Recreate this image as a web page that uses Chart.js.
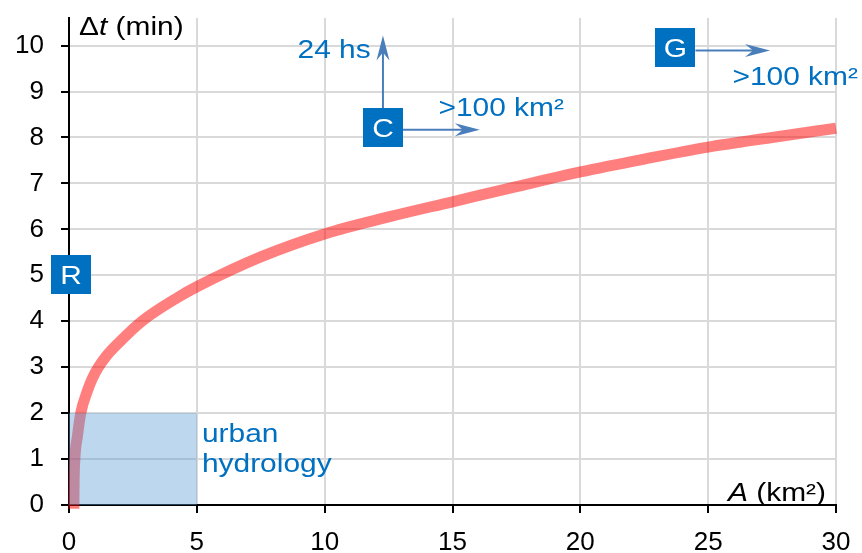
<!DOCTYPE html>
<html><head><meta charset="utf-8">
<script src="https://cdn.jsdelivr.net/npm/chart.js@4"></script>
<style>html,body{margin:0;padding:0;background:#fff}#wrap{width:862px;height:553px}</style>
</head><body><div id="wrap"><canvas id="c" width="862" height="553"></canvas></div>
<script>
// ---- data ----
const areaKm2 = [0.19, 0.2, 0.23, 0.33, 0.46, 0.73, 0.91, 1.15, 1.47, 1.89, 2.85, 4.26, 5, 7.5, 10, 12.5, 15, 17.5, 20, 22.5, 25, 27.5, 30];
const dtMin   = [-0.08, 0.5, 1, 1.5, 2, 2.5, 2.75, 3, 3.25, 3.5, 4, 4.52, 4.75, 5.4, 5.9, 6.27, 6.6, 6.93, 7.25, 7.53, 7.79, 8.0, 8.2];
const xTicks = [0, 5, 10, 15, 20, 25, 30];
const yTicks = [0, 1, 2, 3, 4, 5, 6, 7, 8, 9, 10];
const urbanA  = [0, 5];
const urbanDt = [0, 2];
const boxLetters = ['R', 'C', 'G'];
const boxA  = [0.08, 12.28, 23.72];
const boxDt = [5.02, 8.21, 9.96];

const FONT = "'Liberation Sans', Arial, Helvetica, sans-serif";
const HS = 1.15;
const BLUE_TXT = '#0070C0';
const ARROW = '#4A7EBB';

function drawRich(ctx, parts, x, y, align, size, color) {
  ctx.save();
  ctx.fillStyle = color; ctx.textBaseline = 'alphabetic'; ctx.textAlign = 'left';
  let w = 0;
  parts.forEach(p => { ctx.font = (p.i ? 'italic ' : '') + size + 'px ' + FONT; w += ctx.measureText(p.t).width; });
  w *= HS;
  const sx = align === 'right' ? x - w : align === 'center' ? x - w / 2 : x;
  ctx.translate(sx, y); ctx.scale(HS, 1);
  let cx = 0;
  parts.forEach(p => { ctx.font = (p.i ? 'italic ' : '') + size + 'px ' + FONT; ctx.fillText(p.t, cx, 0); cx += ctx.measureText(p.t).width; });
  ctx.restore();
}
function drawArrow(ctx, x1, y1, x2, y2, color) {
  const ang = Math.atan2(y2 - y1, x2 - x1);
  const L = Math.hypot(x2 - x1, y2 - y1);
  ctx.save();
  ctx.translate(x1, y1); ctx.rotate(ang);
  ctx.strokeStyle = color; ctx.fillStyle = color; ctx.lineWidth = 2;
  ctx.beginPath(); ctx.moveTo(0, 0); ctx.lineTo(L - 14, 0); ctx.stroke();
  ctx.beginPath(); ctx.moveTo(L, 0); ctx.lineTo(L - 25, -6.5); ctx.lineTo(L - 17, 0); ctx.lineTo(L - 25, 6.5); ctx.closePath(); ctx.fill();
  ctx.restore();
}

const annot = {
  id: 'annot',
  afterDatasetsDraw(chart) {
    const ctx = chart.ctx, xs = chart.scales.x, ys = chart.scales.y, ca = chart.chartArea;
    const px = v => xs.getPixelForValue(v), py = v => ys.getPixelForValue(v);
    // urban hydrology box
    ctx.save();
    ctx.fillStyle = 'rgba(91,155,213,0.4)';
    ctx.fillRect(px(urbanA[0]), py(urbanDt[1]), px(urbanA[1]) - px(urbanA[0]), py(urbanDt[0]) - py(urbanDt[1]));
    ctx.restore();
    drawRich(ctx, [{t: 'urban'}], px(5.2), py(1.38), 'left', 26, BLUE_TXT);
    drawRich(ctx, [{t: 'hydrology'}], px(5.2), py(0.71), 'left', 26, BLUE_TXT);
    // arrows
    const c = 1, g = 2;
    drawArrow(ctx, px(boxA[c]), py(boxDt[c]) - 19, px(boxA[c]), py(10.22), ARROW);
    drawArrow(ctx, px(boxA[c]) + 20, py(8.17), px(16.07), py(8.17), ARROW);
    drawArrow(ctx, px(boxA[g]) + 20, py(9.89), px(27.42), py(9.89), ARROW);
    drawRich(ctx, [{t: '24 hs'}], px(11.8), py(9.74), 'right', 26, BLUE_TXT);
    drawRich(ctx, [{t: '>100 km²'}], px(14.45), py(8.46), 'left', 26, BLUE_TXT);
    drawRich(ctx, [{t: '>100 km²'}], px(25.95), py(9.15), 'left', 26, BLUE_TXT);
    // letter boxes
    boxLetters.forEach((L, i) => {
      const cx = px(boxA[i]), cy = py(boxDt[i]);
      ctx.save();
      ctx.fillStyle = BLUE_TXT;
      ctx.fillRect(Math.round(cx - 20), Math.round(cy - 19.5), 40, 39);
      ctx.restore();
      drawRich(ctx, [{t: L}], cx, cy + 9.5, 'center', 26, '#ffffff');
    });
    // axis titles
    drawRich(ctx, [{t: 'Δ'}, {t: 't', i: true}, {t: ' (min)'}], ca.left + 10, ca.top + 16.5, 'left', 26, '#000');
    drawRich(ctx, [{t: 'A', i: true}, {t: ' (km²)'}], ca.right - 10, ca.bottom - 4, 'right', 26, '#000');
  }
};

const points = areaKm2.map((a, i) => ({x: a, y: dtMin[i]}));

new Chart(document.getElementById('c'), {
  type: 'scatter',
  data: {
    datasets: [{
      data: points,
      showLine: true,
      borderColor: 'rgba(255,0,0,0.5)',
      borderWidth: 11,
      borderCapStyle: 'butt',
      borderJoinStyle: 'round',
      pointRadius: 0,
      pointHoverRadius: 0,
      cubicInterpolationMode: 'monotone',
      clip: false
    }]
  },
  options: {
    responsive: false,
    animation: false,
    events: [],
    layout: {padding: {top: 18, right: 26, left: 0, bottom: 0}},
    plugins: {legend: {display: false}, tooltip: {enabled: false}},
    scales: {
      x: {
        type: 'linear', min: 0, max: 30,
        afterBuildTicks: s => { s.ticks = xTicks.map(v => ({value: v})); },
        afterFit: s => { s.height = 48; s.paddingLeft = 0; s.paddingRight = 0; },
        grid: {color: '#D9D9D9', lineWidth: 2, tickColor: '#000', tickLength: 8, tickWidth: 2},
        border: {color: '#000', width: 2},
        ticks: {color: '#000', font: {family: FONT, size: 26}, padding: 14, maxRotation: 0}
      },
      y: {
        type: 'linear', min: 0, max: 10.6,
        afterBuildTicks: s => { s.ticks = yTicks.map(v => ({value: v})); },
        afterFit: s => { s.width = 69; s.paddingTop = 0; s.paddingBottom = 0; },
        grid: {color: '#D9D9D9', lineWidth: 2, tickColor: '#000', tickLength: 8, tickWidth: 2},
        border: {color: '#000', width: 2},
        ticks: {color: '#000', font: {family: FONT, size: 26}, padding: 17}
      }
    }
  },
  plugins: [annot]
});
</script>
</body></html>
